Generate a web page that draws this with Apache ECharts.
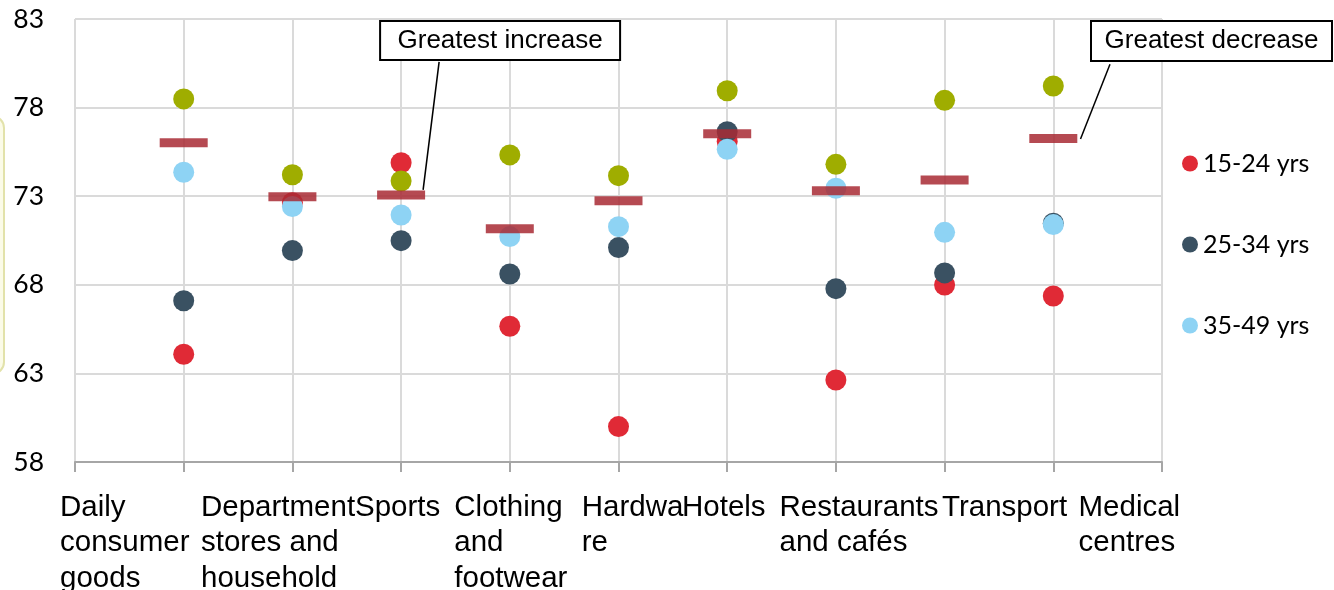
<!DOCTYPE html>
<html><head><meta charset="utf-8">
<script src="https://cdn.jsdelivr.net/npm/echarts@6/dist/echarts.min.js"></script>
<style>html,body{margin:0;padding:0;background:#fff}#c{width:1334px;height:590px}</style>
</head><body><div id="c"></div>
<script>
// ---------- data ----------
const categories = ['Daily\nconsumer\ngoods', 'Department\nstores and\nhousehold', 'Sports', 'Clothing\nand\nfootwear', 'Hardwa\nre', 'Hotels', 'Restaurants\nand cafés', 'Transport', 'Medical\ncentres'];
const yTicks = [58, 63, 68, 73, 78, 83];
const legendNames = ['15-24 yrs', '25-34 yrs', '35-49 yrs'];
const age15_24 = [64.08, 72.63, 74.89, 65.66, 60.00, 76.08, 62.63, 67.99, 67.37];
const age25_34 = [67.10, 69.93, 70.49, 68.61, 70.10, 76.64, 67.78, 68.67, 71.48];
const age35_49 = [74.35, 72.42, 71.94, 70.72, 71.28, 75.65, 73.45, 70.96, 71.40];
const olderGroup = [78.49, 74.21, 73.86, 75.33, 74.16, 78.95, 74.80, 78.41, 79.22];
const average = [76.02, 72.97, 73.07, 71.17, 72.75, 76.53, 73.31, 73.91, 76.25];
const annotationTexts = ['Greatest increase', 'Greatest decrease'];
const annotationCategory = [3, 9]; // 1-based category positions

// ---------- layout / style ----------
const labelShift = [-123.7, -91.4, -46.1, -55.5, -36.8, -45.2, -56.4, -2.6, 25.2];
const TOKEN_W = 170;
const rich = {};
labelShift.forEach((d, i) => {
  const D = 2 * d + TOKEN_W;
  const P = D >= 0 ? D : 0, Q = D >= 0 ? 0 : -D;
  rich['c' + i] = {
    fontFamily: 'Liberation Sans', fontSize: 29.5, lineHeight: 35.5, color: '#000',
    width: TOKEN_W, align: 'left', padding: [0, Q, 0, P]
  };
});

const toXY = arr => arr.map((v, i) => [i + 1, v]);
const dot = (name, data, color) => ({
  name, type: 'scatter', data: toXY(data), symbol: 'circle', symbolSize: 21,
  itemStyle: { color, opacity: 1 }, animation: false, silent: true
});

const chart = echarts.init(document.getElementById('c'), null, { renderer: 'canvas' });
chart.setOption({
  backgroundColor: '#fff',
  animation: false,
  grid: { left: 75, right: 172, top: 19, bottom: 128, containLabel: false, outerBoundsMode: 'none' },
  legend: {
    orient: 'vertical', left: 1177, top: 146, itemGap: 56, itemWidth: 16, itemHeight: 16,
    icon: 'circle', data: legendNames, selectedMode: false,
    textStyle: { fontFamily: 'Lato', fontSize: 25, color: '#000', padding: [0, 0, 0, 0] }
  },
  xAxis: {
    type: 'value', min: 0, max: categories.length + 1, interval: 1,
    axisLine: { show: true, lineStyle: { color: '#a6a6a6', width: 2 } },
    axisTick: { show: true, length: 10, lineStyle: { color: '#a6a6a6', width: 2 } },
    splitLine: { show: true, lineStyle: { color: '#dadada', width: 2 } },
    axisLabel: {
      show: true, margin: 28, align: 'center', verticalAlign: 'top', showMinLabel: true, showMaxLabel: true,
      formatter: v => {
        const i = Math.round(v) - 1;
        if (i < 0 || i >= categories.length) return '';
        return categories[i].split('\n').map(l => '{c' + i + '|' + l + '}').join('\n');
      },
      rich
    }
  },
  yAxis: {
    type: 'value', min: yTicks[0], max: yTicks[yTicks.length - 1], interval: yTicks[1] - yTicks[0],
    axisLine: { show: false }, axisTick: { show: false },
    splitLine: { show: true, lineStyle: { color: '#dadada', width: 2 } },
    axisLabel: { fontFamily: 'Lato', fontSize: 26.5, color: '#000', margin: 31 }
  },
  series: [
    dot(legendNames[0], age15_24, '#e02a36'),
    dot(legendNames[1], age25_34, '#3a5162'),
    dot(legendNames[2], age35_49, '#8ed3f4'),
    dot('Older', olderGroup, '#9fad00'),
    {
      name: 'Average', type: 'scatter', data: toXY(average), symbol: 'rect', symbolSize: [48, 9],
      itemStyle: { color: '#a82a34', opacity: 0.85 }, z: 5, animation: false, silent: true
    }
  ]
});

// annotations anchored to the average marks through the chart's scales
const px = (x, y) => chart.convertToPixel({ gridIndex: 0 }, [x, y]);
const annGeom = [
  { box: [-21, -174, 240, 39], line: [38, -133, 22, -5] },
  { box: [37.7, -117.7, 241, 40], line: [56.7, -74.4, 27.2, 0.3] }
];
const graphics = [{
  type: 'rect', z: 0, shape: { x: -200, y: 116, width: 204, height: 258, r: 12 },
  style: { fill: '#fbfbe8', stroke: '#e2e2aa', lineWidth: 2 }, silent: true
}];
annotationTexts.forEach((t, k) => {
  const c = annotationCategory[k];
  const a = px(c, average[c - 1]);
  const g = annGeom[k];
  graphics.push({
    type: 'rect', z: 10, shape: { x: a[0] + g.box[0], y: a[1] + g.box[1], width: g.box[2], height: g.box[3] },
    style: { fill: '#fff', stroke: '#000', lineWidth: 2 }, silent: true
  });
  graphics.push({
    type: 'text', z: 11, x: a[0] + g.box[0] + g.box[2] / 2, y: a[1] + g.box[1] + g.box[3] / 2,
    style: { text: t, fontFamily: 'Liberation Sans', fontSize: 26, fill: '#000', align: 'center', verticalAlign: 'middle' },
    silent: true
  });
  graphics.push({
    type: 'line', z: 10, shape: { x1: a[0] + g.line[0], y1: a[1] + g.line[1], x2: a[0] + g.line[2], y2: a[1] + g.line[3] },
    style: { stroke: '#000', lineWidth: 1.5 }, silent: true
  });
});
chart.setOption({ graphic: graphics });
</script></body></html>
